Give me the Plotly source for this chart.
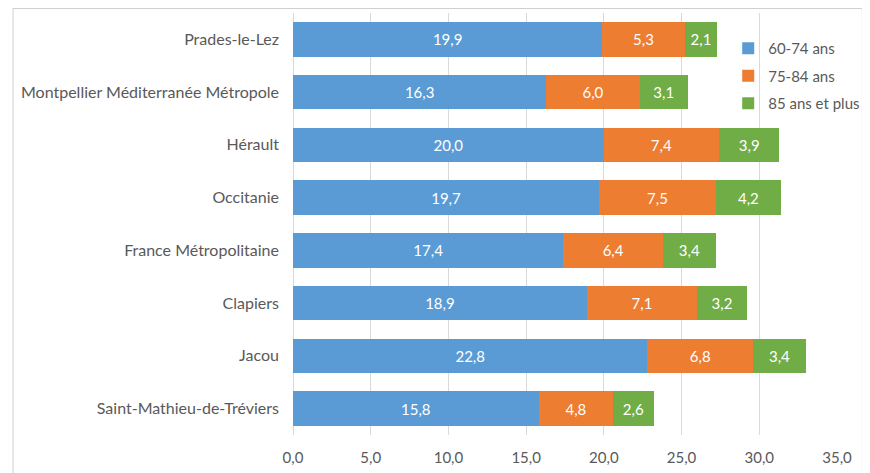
import plotly.graph_objects as go

categories = ["Prades-le-Lez", "Montpellier Méditerranée Métropole", "Hérault", "Occitanie",
              "France Métropolitaine", "Clapiers", "Jacou", "Saint-Mathieu-de-Tréviers"]
s_60_74 = [19.9, 16.3, 20.0, 19.7, 17.4, 18.9, 22.8, 15.8]
s_75_84 = [5.3, 6.0, 7.4, 7.5, 6.4, 7.1, 6.8, 4.8]
s_85 = [2.1, 3.1, 3.9, 4.2, 3.4, 3.2, 3.4, 2.6]
series_names = ["60-74 ans", "75-84 ans", "85 ans et plus"]
colors = ["#5B9BD5", "#ED7D31", "#70AD47"]
tick_vals = [0, 5, 10, 15, 20, 25, 30, 35]

FONT = "Lato"
FS = 15
fig = go.Figure()
for name, vals, col in zip(series_names, [s_60_74, s_75_84, s_85], colors):
    fig.add_trace(go.Bar(
        y=categories, x=vals, name=name, orientation="h",
        marker=dict(color=col, line=dict(width=0)),
        texttemplate="%{x:.1f}", textposition="inside", insidetextanchor="middle",
        textangle=0, constraintext="none",
        textfont=dict(color="white", size=FS, family=FONT),
        legendgroup=name,
    ))

fig.update_layout(
    barmode="stack", bargap=0.35,
    width=862, height=465,
    margin=dict(l=285, r=30, t=5, b=38),
    paper_bgcolor="white", plot_bgcolor="white",
    separators=", ",
    font=dict(family=FONT, size=FS, color="#595959"),
    showlegend=True,
    legend=dict(x=0.80, y=0.955, xanchor="left", yanchor="top",
                font=dict(size=FS, color="#595959"), tracegroupgap=5,
                bgcolor="rgba(0,0,0,0)"),
    shapes=[dict(type="rect", xref="paper", yref="paper",
                 x0=-0.5146, x1=1.0466, y0=-0.2, y1=1.0107,
                 line=dict(color="#D0D0D0", width=1), fillcolor="rgba(0,0,0,0)", layer="above")],
)
fig.update_xaxes(range=[0, 35], tickvals=tick_vals, tickformat=".1f",
                 showgrid=True, gridcolor="#D9D9D9", gridwidth=1,
                 zeroline=True, zerolinecolor="#D9D9D9", zerolinewidth=1,
                 showline=False, ticks="", ticklabelstandoff=12,
                 tickfont=dict(size=FS, color="#595959"))
fig.update_yaxes(autorange="reversed", showgrid=False, showline=False, ticks="",
                 ticklabelstandoff=13, tickfont=dict(size=16, color="#595959"))

fig.write_html("out.html")
